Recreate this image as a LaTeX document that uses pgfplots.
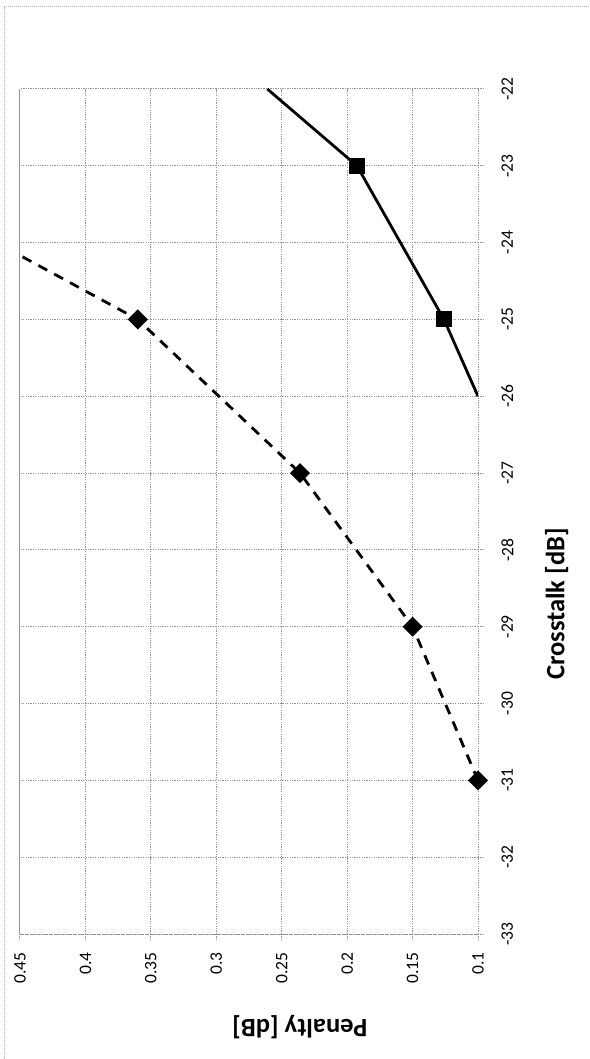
\documentclass[border=0pt]{standalone}
\usepackage{fontspec}
\setmainfont{Carlito}
\usepackage{pgfplots}
\pgfplotsset{compat=1.18}
\begin{document}
\begin{tikzpicture}
\tikzset{gridstyle/.style={color=black!42, line width=0.5bp, dash pattern=on 0.6bp off 0.6bp}}
\draw[black!30, line width=0.5bp, dash pattern=on 0.5bp off 0.5bp] (2bp,0) -- (2bp,526bp) -- (295bp,526bp);
\begin{axis}[
  at={(10bp,62.5bp)}, anchor=south west,
  scale only axis, width=229bp, height=422.5bp,
  xmin=0.1, xmax=0.45, ymin=-33, ymax=-22,
  x dir=reverse,
  xtick={0.1,0.15,0.2,0.25,0.3,0.35,0.4,0.45},
  xticklabels={0.1,0.15,0.2,0.25,0.3,0.35,0.4,0.45},
  ytick={-33,-32,-31,-30,-29,-28,-27,-26,-25,-24,-23,-22},
  yticklabels={-33,-32,-31,-30,-29,-28,-27,-26,-25,-24,-23,-22},
  xtick pos=left, ytick pos=right,
  xticklabel pos=left, yticklabel pos=right,
  tick align=outside, major tick length=3bp,
  every tick/.style={gridstyle},
  grid=major, major grid style={gridstyle},
  axis line style={gridstyle},
  xticklabel shift=6bp, yticklabel shift=8.5bp,
  xticklabel style={rotate=90, anchor=east, inner sep=0pt, font=\fontsize{8.75bp}{10bp}\selectfont},
  yticklabel style={rotate=90, anchor=north, inner sep=0pt, font=\fontsize{8.75bp}{10bp}\selectfont},
  every axis x label/.style={at={(axis description cs:0.611,-0.110)}, rotate=180, anchor=center, font=\fontsize{13.25bp}{15bp}\selectfont\bfseries},
  every axis y label/.style={at={(axis description cs:1.172,0.3905)}, rotate=90, anchor=center, font=\fontsize{13.25bp}{15bp}\selectfont\bfseries},
  xlabel={Penalty [dB]},
  ylabel={Crosstalk [dB]},
]
\addplot[black, line width=1.4bp, dash pattern=on 5bp off 4bp,
  mark=square*, mark size=2.85bp, mark indices={1,2,3,4},
  mark options={solid, rotate=45, fill=black}]
  coordinates {(0.1,-31) (0.15,-29) (0.236,-27) (0.36,-25) (0.468,-24)};
\addplot[black, line width=1.4bp,
  mark=square*, mark size=3.3bp, mark indices={2,3},
  mark options={solid, fill=black}]
  coordinates {(0.1,-26) (0.126,-25) (0.1925,-23) (0.261,-22)};
\end{axis}
\pgfresetboundingbox
\path[use as bounding box] (0,0) rectangle (295bp,529.5bp);
\end{tikzpicture}
\end{document}
